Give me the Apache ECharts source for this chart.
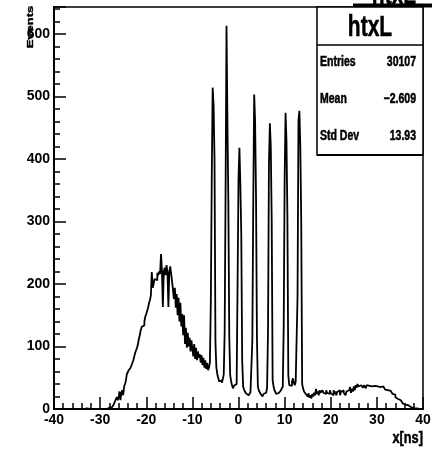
<!DOCTYPE html>
<html>
<head>
<meta charset="utf-8">
<script src="https://cdn.jsdelivr.net/npm/echarts@6/dist/echarts.min.js"></script>
<style>html,body{margin:0;padding:0;background:#fff}#c{width:432px;height:454px}</style>
</head>
<body>
<div id="c"></div>
<script>
// Histogram binning: 400 bins from -40 to 40 ns
var binStart = -40;
var binWidth = 0.2;
// counts per bin
var countsLeft = [
  0,0,0,0,0,0,0,0,0,0,
  0,0,0,1,0,0,0,0,0,0,
  0,0,0,0,0,0,0,0,1,0,
  0,0,0,0,0,1,0,0,0,0,
  0,0,0,0,0,0,1,0,0,0,
  0,0,1,0,0,1,0,1,0,2
];
var countsBump = [
  0,2,3,5,6,8,12,15,19,14,
  18,28,14,26,30,22,36,40,46,56,
  58,62,64,66,70,74,78,84,90,94,
  98,104,112,118,126,131,128,134,140,148,
  152,155,162,170,174,182,219,194,200,208,
  211,206,218,214,220,216,248,222,163,220,
  226,214,230,218,163,220,228,216,204,190,
  176,194,162,184,150,178,140,170,132,152,
  118,150,104,130,98,122,100,114,92,110,
  96,84,104,80,98,78,92,82,88,74,
  86,70,82,66,78,64,74,62
];
var countsPeaks = [
  66,75,171,368,514,485,400,107,66,56,
  50,44,41,46,42,48,55,123,350,613,
  459,330,115,54,44,38,33,37,34,40,
  44,201,368,418,360,280,78,36,31,28,
  25,26,22,25,23,27,30,110,331,503,
  460,340,113,36,30,27,24,22,20,24,
  22,26,28,34,126,390,457,420,300,46,
  36,30,27,24,22,26,23,28,30,33,
  36,131,365,474,430,310,54,38,40,37,
  44,49,42,38,44,46,179,461,477,420
];
var countsRight = [
  300,40,33,28,26,24,22,20,25,18,
  22,17,24,20,26,22,32,24,28,22,
  30,26,24,30,26,28,24,30,26,29,
  24,30,25,28,22,30,24,28,22,27,
  25,30,22,27,24,30,26,24,22,28,
  25,30,27,35,26,32,28,36,30,38,
  34,40,36,33,38,35,40,34,38,36,
  33,38,35,37,34,39,36,38,35,37,
  36,39,36,34,37,35,36,33,36,34,
  35,31,33,30,32,28,29,26,27,24,
  22,23,19,20,16,17,13,14,11,12,
  9,10,7,8,5,6,4,4,3,2,
  3,1,2,1,1,0,1,0,0,0,0,0
];
var xMin = -40, xMax = 40, yMax = 643;
var histTitle = 'htxL';
var statLabels = ['Entries', 'Mean', 'Std Dev'];
var statValues = ['30107', '\u22122.609', '13.93'];
var xTitle = 'x[ns]';
var yTitle = 'Events';

var counts = countsLeft.concat(countsBump, countsPeaks, countsRight);
if (counts.length !== 400) { throw new Error('bad bin count ' + counts.length); }
var pts = [];
for (var i = 0; i < counts.length; i++) {
  pts.push([+(binStart + binWidth * i).toFixed(2), counts[i]]);
}
pts.push([xMax, counts[counts.length - 1]]);

var FONT = '"Liberation Sans", Arial, sans-serif';
var chart = echarts.init(document.getElementById('c'), null, {renderer: 'canvas'});
var labelStyle = {color: '#000', fontFamily: FONT, fontWeight: 'bold', fontSize: 14};
function txt(x, y, s, size, align, vAlign, sx, sy, rot) {
  return {type: 'text', x: x, y: y, scaleX: sx || 1, scaleY: sy || 1, rotation: rot || 0, z: 11,
    style: {text: s, fill: '#000', stroke: '#000', lineWidth: 0.5, font: 'bold ' + size + 'px ' + FONT, textAlign: align, textVerticalAlign: vAlign}};
}
chart.setOption({
  animation: false,
  backgroundColor: '#fff',
  grid: {left: 54, right: 9, top: 7, bottom: 45, outerBoundsMode: 'none', containLabel: false,
         show: true, borderColor: '#000', borderWidth: 1.5, backgroundColor: 'transparent'},
  xAxis: [
    {type: 'value', min: xMin, max: xMax, interval: 2, position: 'bottom',
     axisLine: {show: true, onZero: false, lineStyle: {color: '#000', width: 2}},
     axisTick: {show: true, inside: true, length: 6, lineStyle: {color: '#000', width: 1.5}},
     axisLabel: Object.assign({margin: 4, formatter: function (v) { return (Math.round(v) % 10 === 0) ? String(Math.round(v)) : ''; }}, labelStyle),
     splitLine: {show: false}},
    {type: 'value', min: xMin, max: xMax, interval: 10, position: 'bottom',
     axisLine: {show: false, onZero: false},
     axisTick: {show: true, inside: true, length: 12, lineStyle: {color: '#000', width: 1.5}},
     axisLabel: {show: false}, splitLine: {show: false}}
  ],
  yAxis: [
    {type: 'value', min: 0, max: yMax, interval: 20, position: 'left',
     axisLine: {show: true, onZero: false, lineStyle: {color: '#000', width: 2}},
     axisTick: {show: true, inside: true, length: 6, lineStyle: {color: '#000', width: 1.5}},
     axisLabel: Object.assign({margin: 4, showMaxLabel: false, formatter: function (v) { return (Math.round(v) % 100 === 0) ? String(Math.round(v)) : ''; }}, labelStyle),
     splitLine: {show: false}},
    {type: 'value', min: 0, max: yMax, interval: 100, position: 'left',
     axisLine: {show: false, onZero: false},
     axisTick: {show: true, inside: true, length: 12, lineStyle: {color: '#000', width: 1.5}},
     axisLabel: {show: false}, splitLine: {show: false}}
  ],
  series: [{
    type: 'line', xAxisIndex: 0, yAxisIndex: 0, step: 'end', symbol: 'none',
    data: pts, lineStyle: {color: '#000', width: 1.8}, z: 3
  }],
  graphic: [
    {type: 'rect', shape: {x: 353, y: 3.5, width: 80, height: 4}, style: {fill: '#000'}, z: 10},
    txt(394, 11, histTitle, 30, 'center', 'bottom', 0.7, 1),
    {type: 'rect', shape: {x: 317, y: 7, width: 106, height: 148}, style: {fill: '#fff', stroke: '#000', lineWidth: 1.5}, z: 10},
    {type: 'line', shape: {x1: 317, y1: 45, x2: 423, y2: 45}, style: {stroke: '#000', lineWidth: 1.5}, z: 11},
    {type: 'line', shape: {x1: 317, y1: 155, x2: 423, y2: 155}, style: {stroke: '#000', lineWidth: 2}, z: 11},
    txt(370, 28, histTitle, 30, 'center', 'middle', 0.7, 1),
    txt(320, 62, statLabels[0], 14, 'left', 'middle', 0.75, 1),
    txt(320, 99, statLabels[1], 14, 'left', 'middle', 0.75, 1),
    txt(320, 136, statLabels[2], 14, 'left', 'middle', 0.75, 1),
    txt(416, 62, statValues[0], 14, 'right', 'middle', 0.75, 1),
    txt(416, 99, statValues[1], 14, 'right', 'middle', 0.75, 1),
    txt(416, 136, statValues[2], 14, 'right', 'middle', 0.75, 1),
    txt(423, 439, xTitle, 16, 'right', 'middle', 0.8, 1),
    txt(30, 27, yTitle, 13, 'center', 'middle', 1, 0.75, Math.PI / 2)
  ]
});
</script>
</body>
</html>
